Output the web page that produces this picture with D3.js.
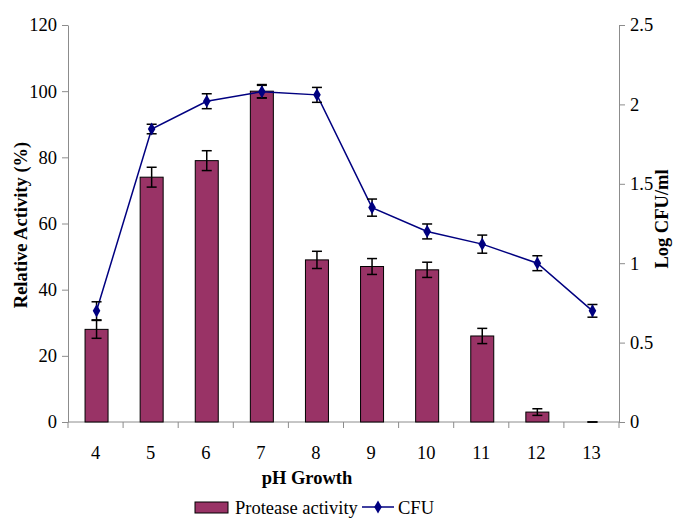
<!DOCTYPE html>
<html>
<head>
<meta charset="utf-8">
<script src="https://d3js.org/d3.v7.min.js"></script>
<style>
body { margin: 0; background: #fff; }
svg { font-family: "Liberation Serif", "Times New Roman", serif; }
.axis path, .axis line { stroke: #8c8c8c; }
.axis text { font-size: 18.5px; fill: #000; }
</style>
</head>
<body>
<script>
/* data */
var phLevels = [4, 5, 6, 7, 8, 9, 10, 11, 12, 13];
var protease = [28, 74, 79, 100, 49, 47, 46, 26, 3, 0];
var proteaseErr = [2.7, 3, 3, 2, 2.6, 2.4, 2.3, 2.3, 1, 0];
var cfu = [0.70, 1.845, 2.02, 2.08, 2.06, 1.35, 1.20, 1.12, 1.00, 0.70];
var cfuErr = [0.057, 0.03, 0.047, 0.04, 0.047, 0.054, 0.047, 0.057, 0.047, 0.04];
var leftTicks = [0, 20, 40, 60, 80, 100, 120];
var rightTicks = [0, 0.5, 1, 1.5, 2, 2.5];

var W = 685, H = 529;
var plotL = 68, plotR = 619, plotT = 25, plotB = 422;
var serif = "'Liberation Serif', 'Times New Roman', serif";

var svg = d3.select("body").append("svg")
  .attr("width", W).attr("height", H);

var x = d3.scaleBand().domain(phLevels).range([plotL, plotR]);
var yL = d3.scaleLinear().domain([0, 120]).range([plotB, plotT]);
var yR = d3.scaleLinear().domain([0, 2.5]).range([plotB, plotT]);

/* axes */
svg.append("g").attr("class", "axis")
  .attr("transform", "translate(" + plotL + ",0)")
  .call(d3.axisLeft(yL).tickValues(leftTicks).tickSize(6).tickPadding(5).tickSizeOuter(0))
  .attr("font-family", serif);

svg.append("g").attr("class", "axis")
  .attr("transform", "translate(" + plotR + ",0)")
  .call(d3.axisRight(yR).tickValues(rightTicks).tickSize(6).tickPadding(5).tickSizeOuter(0)
    .tickFormat(function(d){ return d; }))
  .attr("font-family", serif);

var xAxis = svg.append("g").attr("class", "axis")
  .attr("font-family", serif)
  .attr("transform", "translate(0," + plotB + ")");
xAxis.append("line").attr("x1", plotL).attr("x2", plotR)
  .attr("stroke", "#8c8c8c");
xAxis.selectAll(".tk").data(phLevels.concat(["end"])).enter().append("line")
  .attr("x1", function(d, i){ return plotL + i * x.step(); })
  .attr("x2", function(d, i){ return plotL + i * x.step(); })
  .attr("y1", 0).attr("y2", 6).attr("stroke", "#8c8c8c");
xAxis.selectAll("text").data(phLevels).enter().append("text")
  .attr("x", function(d){ return x(d) + x.bandwidth() / 2; })
  .attr("y", 37)
  .attr("text-anchor", "middle")
  .text(function(d){ return d; });

/* bars */
var bw = 23;
svg.selectAll(".bar").data(protease).enter().append("rect")
  .attr("x", function(d, i){ return x(phLevels[i]) + x.bandwidth() / 2 - bw / 2 + 1; })
  .attr("y", function(d){ return yL(d); })
  .attr("width", bw)
  .attr("height", function(d){ return plotB - yL(d); })
  .attr("fill", "#993366")
  .attr("stroke", "#000").attr("stroke-width", 1);

function errorBars(vals, errs, scale, off) {
  var g = svg.append("g").attr("stroke", "#000").attr("stroke-width", 1.5);
  vals.forEach(function(v, i) {
    var cx = x(phLevels[i]) + x.bandwidth() / 2 + off;
    var y1 = scale(v + errs[i]), y2 = scale(v - errs[i]);
    g.append("line").attr("x1", cx).attr("x2", cx).attr("y1", y1).attr("y2", y2);
    g.append("line").attr("x1", cx - 5).attr("x2", cx + 5).attr("y1", y1).attr("y2", y1);
    g.append("line").attr("x1", cx - 5).attr("x2", cx + 5).attr("y1", y2).attr("y2", y2);
  });
}
errorBars(protease, proteaseErr, yL, 1);

/* CFU line */
var line = d3.line()
  .x(function(d, i){ return x(phLevels[i]) + x.bandwidth() / 2 + 1; })
  .y(function(d){ return yR(d); });
svg.append("path").datum(cfu)
  .attr("d", line).attr("fill", "none")
  .attr("stroke", "#000080").attr("stroke-width", 1.5);
errorBars(cfu, cfuErr, yR, 1);

var diamond = d3.symbol().type(d3.symbolDiamond).size(50);
svg.selectAll(".pt").data(cfu).enter().append("path")
  .attr("d", diamond)
  .attr("transform", function(d, i){
    return "translate(" + (x(phLevels[i]) + x.bandwidth() / 2 + 1) + "," + yR(d) + ")";
  })
  .attr("fill", "#000080");

/* titles */
svg.append("text")
  .attr("transform", "translate(27,225) rotate(-90)")
  .attr("text-anchor", "middle")
  .attr("font-weight", "bold").attr("font-size", "18.5px")
  .text("Relative Activity (%)");

svg.append("text")
  .attr("transform", "translate(668,219) rotate(-90)")
  .attr("text-anchor", "middle")
  .attr("font-weight", "bold").attr("font-size", "18.5px")
  .text("Log CFU/ml");

svg.append("text")
  .attr("x", 307).attr("y", 484)
  .attr("text-anchor", "middle")
  .attr("font-weight", "bold").attr("font-size", "18.5px")
  .text("pH Growth");

/* legend */
var lg = svg.append("g");
lg.append("rect").attr("x", 195).attr("y", 502).attr("width", 33).attr("height", 11)
  .attr("fill", "#993366").attr("stroke", "#000");
lg.append("text").attr("x", 235).attr("y", 514).attr("font-size", "18.5px")
  .text("Protease activity");
lg.append("line").attr("x1", 362).attr("x2", 394).attr("y1", 507).attr("y2", 507)
  .attr("stroke", "#000080").attr("stroke-width", 1.5);
lg.append("path").attr("d", diamond).attr("transform", "translate(378,507)")
  .attr("fill", "#000080");
lg.append("text").attr("x", 398).attr("y", 514).attr("font-size", "18.5px")
  .text("CFU");
</script>
</body>
</html>
